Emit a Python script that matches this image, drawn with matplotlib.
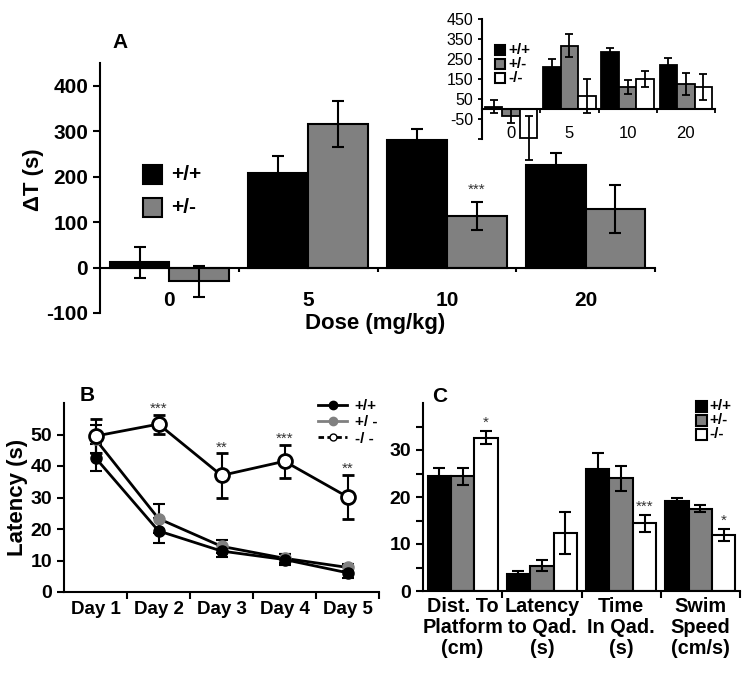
import numpy as np
import matplotlib
matplotlib.use('Agg')
import matplotlib.pyplot as plt
from matplotlib.lines import Line2D
from matplotlib.patches import Rectangle

plt.rcParams['font.family'] = ['Liberation Sans', 'DejaVu Sans']
plt.rcParams['font.weight'] = 'bold'
plt.rcParams['axes.unicode_minus'] = False

# panel A: dT by dose, +/+ and +/-
doses = ['0', '5', '10', '20']
a_wt = [12, 208, 280, 225]
a_wt_err = [34, 38, 25, 27]
a_het = [-30, 316, 114, 128]
a_het_err = [34, 50, 31, 53]
a_stars = ['', '', '***', '']

# inset of A, with -/-
in_wt = [12, 212, 283, 222]
in_wt_err = [33, 36, 24, 31]
in_het = [-35, 317, 108, 127]
in_het_err = [33, 58, 35, 55]
in_ko = [-145, 65, 148, 110]
in_ko_err = [108, 83, 40, 65]

# panel B: latency over days
days = ['Day 1', 'Day 2', 'Day 3', 'Day 4', 'Day 5']
b_wt = [42.6, 19.4, 13.0, 10.3, 6.1]
b_wt_err = [4.3, 4.0, 2.0, 1.8, 1.8]
b_het = [48.5, 23.3, 14.5, 10.7, 7.8]
b_het_err = [4.5, 4.5, 2.0, 1.5, 1.2]
b_ko = [49.5, 53.3, 37.0, 41.5, 30.2]
b_ko_err = [5.5, 3.0, 7.0, 5.2, 7.0]
b_stars = ['', '***', '**', '***', '**']

# panel C: probe trial
c_groups = ['Dist. To\nPlatform\n(cm)', 'Latency\nto Qad.\n(s)',
            'Time\nIn Qad.\n(s)', 'Swim\nSpeed\n(cm/s)']
c_wt = [24.4, 3.7, 26.0, 19.1]
c_wt_err = [1.7, 0.6, 3.3, 0.7]
c_het = [24.4, 5.4, 24.0, 17.5]
c_het_err = [1.8, 1.1, 2.7, 0.7]
c_ko = [32.6, 12.3, 14.4, 11.9]
c_ko_err = [1.4, 4.5, 1.8, 1.3]
c_stars = ['*', '', '***', '*']

GRAY = '#808080'
W, H = 754, 679
fig = plt.figure(figsize=(W / 100, H / 100), dpi=100)


def px_axes(x0, y0, x1, y1):
    return fig.add_axes([x0 / W, 1 - y1 / H, (x1 - x0) / W, (y1 - y0) / H])


def box_legend(x, y, size, step, gap, fs, labels, colors):
    for i, (lab, col) in enumerate(zip(labels, colors)):
        yy = y + i * step
        fig.patches.append(Rectangle((x / W, 1 - (yy + size) / H), size / W, size / H,
                                     transform=fig.transFigure, fc=col, ec='black', lw=1.5))
        fig.text((x + size + gap) / W, 1 - (yy + size / 2) / H, lab, fontsize=fs,
                 fontweight='bold', va='center', ha='left')


def style(ax, fs):
    for s in ['top', 'right']:
        ax.spines[s].set_visible(False)
    for s in ['left', 'bottom']:
        ax.spines[s].set_linewidth(1.5)
    ax.tick_params(direction='out', width=1.5, length=5, labelsize=fs)


ekw = dict(ecolor='black', elinewidth=1.5, capsize=4, capthick=1.5)
star_kw = dict(textcoords='offset points', ha='center', va='baseline',
               fontsize=11, fontweight='normal', color='#333333')

# ---- A
ax = px_axes(100, 63, 655, 313)
x = np.arange(len(doses))
w = 0.43
ax.bar(x - w / 2, a_wt, w, color='black', edgecolor='black', lw=1.5)
ax.bar(x + w / 2, a_het, w, color=GRAY, edgecolor='black', lw=1.5)
ax.errorbar(x - w / 2, a_wt, yerr=a_wt_err, fmt='none', **ekw)
ax.errorbar(x + w / 2, a_het, yerr=a_het_err, fmt='none', **ekw)
for i, s in enumerate(a_stars):
    if s:
        ax.annotate(s, (x[i] + w / 2, a_het[i] + a_het_err[i]), xytext=(0, 6), **star_kw)
ax.set_xlim(-0.5, 3.5)
ax.set_ylim(-100, 450)
ax.set_yticks(range(-100, 401, 100))
style(ax, 15)
ax.spines['bottom'].set_position(('data', 0))
ax.set_xticks([0.5, 1.5, 2.5, 3.5])
ax.set_xticklabels([])
ax.tick_params(axis='x', length=3)
for i, d in enumerate(doses):
    ax.text(x[i], 0.052, d, transform=ax.get_xaxis_transform(), ha='center', va='center',
            fontsize=15, fontweight='bold')
fig.text(375 / W, 1 - 323 / H, 'Dose (mg/kg)', ha='center', va='center', fontsize=16,
         fontweight='bold')
fig.text(34 / W, 1 - 180 / H, 'ΔT (s)', ha='center', va='center', rotation=90,
         fontsize=16, fontweight='bold')
fig.text(120 / W, 1 - 43 / H, 'A', ha='center', va='center', fontsize=15, fontweight='bold')
box_legend(143, 165, 19, 33, 9, 15, ['+/+', '+/-'], ['black', GRAY])

# ---- inset
ai = px_axes(482, 19, 715, 139)
ai.set_facecolor('none')
wi = 0.3
ai.bar(x - wi, in_wt, wi, color='black', edgecolor='black', lw=1.3)
ai.bar(x, in_het, wi, color=GRAY, edgecolor='black', lw=1.3)
ai.bar(x + wi, in_ko, wi, color='white', edgecolor='black', lw=1.3)
ikw = dict(ecolor='black', elinewidth=1.3, capsize=3, capthick=1.3, clip_on=False)
ai.errorbar(x - wi, in_wt, yerr=in_wt_err, fmt='none', **ikw)
ai.errorbar(x, in_het, yerr=in_het_err, fmt='none', **ikw)
ai.errorbar(x + wi, in_ko, yerr=in_ko_err, fmt='none', **ikw)
ai.set_xlim(-0.5, 3.5)
ai.set_ylim(-150, 450)
ai.set_yticks(range(-150, 451, 100))
ai.set_yticklabels([''] + [str(v) for v in range(-50, 451, 100)])
style(ai, 11.5)
for t in ai.get_yticklabels():
    t.set_fontweight('normal')
ai.tick_params(length=3, width=1.3)
ai.spines['bottom'].set_position(('data', 0))
ai.set_xticks([0.5, 1.5, 2.5, 3.5])
ai.set_xticklabels([])
for i, d in enumerate(doses):
    ai.text(x[i], 0.05, d, transform=ai.get_xaxis_transform(), ha='center', va='center',
            fontsize=12, fontweight='normal')
box_legend(495, 45, 10, 14, 3, 11, ['+/+', '+/-', '-/-'], ['black', GRAY, 'white'])

# ---- B
bx = px_axes(64, 403, 379, 592)
xd = np.arange(1, len(days) + 1)
bkw = dict(ecolor='black', elinewidth=1.5, capsize=4, capthick=1.5, lw=2, color='black')
bx.errorbar(xd, b_het, yerr=b_het_err, marker='o', ms=8, mfc=GRAY, mec=GRAY, **bkw)
bx.errorbar(xd, b_wt, yerr=b_wt_err, marker='o', ms=8, mfc='black', mec='black', **bkw)
bx.errorbar(xd, b_ko, yerr=b_ko_err, marker='o', ms=10, mfc='white', mec='black', mew=2, **bkw)
for i, s in enumerate(b_stars):
    if s:
        bx.annotate(s, (xd[i], b_ko[i] + b_ko_err[i]), xytext=(0, 1.5), **star_kw)
bx.set_xlim(0.5, 5.5)
bx.set_ylim(0, 60)
bx.set_yticks(range(0, 51, 10))
style(bx, 14)
bx.set_xticks([1.5, 2.5, 3.5, 4.5, 5.5])
bx.set_xticklabels([])
for i, d in enumerate(days):
    bx.text(xd[i], -0.095, d, transform=bx.get_xaxis_transform(), ha='center', va='center',
            fontsize=13.5, fontweight='bold')
bx.set_ylabel('Latency (s)', fontsize=16, fontweight='bold')
bx.yaxis.set_label_coords(-0.115, 0.5)
handles = [Line2D([], [], color='black', lw=2, marker='o', ms=6, mfc='black', mec='black'),
           Line2D([], [], color=GRAY, lw=2, marker='o', ms=6, mfc=GRAY, mec=GRAY),
           Line2D([], [], color='black', lw=2, ls=(0, (2, 1.2)), marker='o', ms=5,
                  mfc='white', mec='black')]
bx.legend(handles, ['+/+', '+/ -', '-/ -'], loc='upper left',
          bbox_to_anchor=(318 / W, 1 - 399 / H), bbox_transform=fig.transFigure,
          frameon=False, fontsize=11, handlelength=1.9, labelspacing=0.15,
          handletextpad=0.5, borderpad=0, borderaxespad=0)
fig.text(87 / W, 1 - 395 / H, 'B', ha='center', va='center', fontsize=15, fontweight='bold')

# ---- C
cx = px_axes(423, 403, 740, 591)
xc = np.arange(len(c_groups))
wc = 0.295
cx.bar(xc - wc, c_wt, wc, color='black', edgecolor='black', lw=1.5)
cx.bar(xc, c_het, wc, color=GRAY, edgecolor='black', lw=1.5)
cx.bar(xc + wc, c_ko, wc, color='white', edgecolor='black', lw=1.5)
cx.errorbar(xc - wc, c_wt, yerr=c_wt_err, fmt='none', **ekw)
cx.errorbar(xc, c_het, yerr=c_het_err, fmt='none', **ekw)
cx.errorbar(xc + wc, c_ko, yerr=c_ko_err, fmt='none', **ekw)
for i, s in enumerate(c_stars):
    if s:
        cx.annotate(s, (xc[i] + wc, c_ko[i] + c_ko_err[i]), xytext=(0, 3), **star_kw)
cx.set_xlim(-0.5, 3.5)
cx.set_ylim(0, 40)
cx.set_yticks(range(0, 36, 5))
cx.set_yticklabels(['0', '', '10', '', '20', '', '30', ''])
style(cx, 14)
cx.set_xticks([0.5, 1.5, 2.5, 3.5])
cx.set_xticklabels([])
for i, g in enumerate(c_groups):
    cx.text(xc[i], -0.03, g, transform=cx.get_xaxis_transform(), ha='center', va='top',
            fontsize=14.3, fontweight='bold', linespacing=1.15)
fig.text(440 / W, 1 - 397 / H, 'C', ha='center', va='center', fontsize=15, fontweight='bold')
box_legend(696, 401, 11, 14, 2, 11, ['+/+', '+/-', '-/-'], ['black', GRAY, 'white'])

fig.savefig('out.png', dpi=100, facecolor='white')
